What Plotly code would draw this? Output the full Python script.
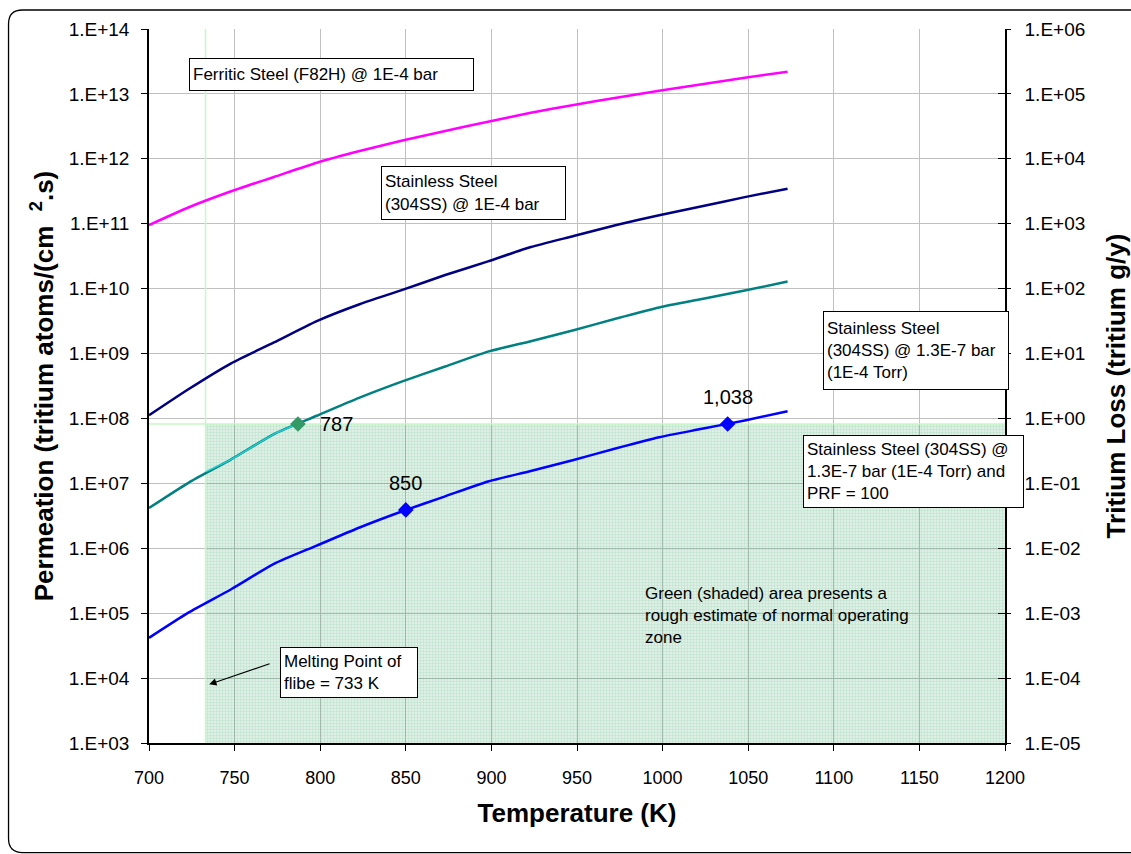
import math
import plotly.graph_objects as go

# Temperature grid (K) of the permeation curves
temps = [700, 723, 748, 773, 798, 823, 848, 873, 898, 923, 948, 973, 998, 1023, 1048, 1073]

# Permeation, tritium atoms/(cm2.s)
ferritic_1e4bar = [9.55e10, 1.78e11, 3.16e11, 5.25e11, 8.71e11, 1.32e12, 1.91e12, 2.69e12,
                   3.72e12, 5.13e12, 6.76e12, 8.71e12, 1.12e13, 1.41e13, 1.78e13, 2.19e13]
ss304_1e4bar = [1.12e8, 2.82e8, 7.08e8, 1.48e9, 3.16e9, 5.75e9, 9.55e9, 1.62e10,
                2.63e10, 4.37e10, 6.46e10, 9.55e10, 1.35e11, 1.86e11, 2.57e11, 3.47e11]
ss304_13e7bar = [4.17e6, 1.02e7, 2.34e7, 5.75e7, 1.10e8, 2.09e8, 3.72e8, 6.31e8,
                 1.07e9, 1.55e9, 2.29e9, 3.47e9, 5.13e9, 6.92e9, 9.33e9, 1.29e10]
ss304_13e7bar_prf100 = [4.17e4, 1.02e5, 2.34e5, 5.75e5, 1.10e6, 2.09e6, 3.72e6, 6.31e6,
                        1.07e7, 1.55e7, 2.29e7, 3.47e7, 5.13e7, 6.92e7, 9.33e7, 1.29e8]

# Part of the 1.3E-7 bar curve that lies in the operating zone
zone_seg_T = [733, 748, 773, 787]
zone_seg_P = [1.5e7, 2.34e7, 5.75e7, 8.2e7]

# Highlighted points
mark_T = [787, 850, 1038]
mark_P = [8.2e7, 3.9e6, 8.2e7]
mark_colors = ["#339966", "#0000FF", "#0000FF"]

# Operating zone limits
melt_T = 733
zone_T_max = 1200
zone_P_min = 1e3
zone_P_max = 8.2e7

# Axis ticks
x_ticks = [700, 750, 800, 850, 900, 950, 1000, 1050, 1100, 1150, 1200]
left_exps = list(range(3, 15))
right_exps = list(range(-5, 7))
left_vals = [10.0 ** e for e in left_exps]
left_text = [f"1.E{e:+03d}" for e in left_exps]
right_vals = [10.0 ** e for e in right_exps]
right_text = [f"1.E{e:+03d}" for e in right_exps]

FONT = "Arial, 'Liberation Sans', sans-serif"

fig = go.Figure()

# shaded operating zone
fig.add_trace(go.Scatter(
    x=[melt_T, zone_T_max, zone_T_max, melt_T, melt_T],
    y=[zone_P_min, zone_P_min, zone_P_max, zone_P_max, zone_P_min],
    mode="lines", line=dict(width=0), fill="toself",
    fillcolor="rgba(50,160,100,0.22)",
    fillpattern=dict(shape="+", size=3, solidity=0.34,
                     fgcolor="rgba(50,165,105,0.40)",
                     bgcolor="rgba(50,160,100,0.16)"),
    hoverinfo="skip", showlegend=False))

# zone boundary lines
fig.add_trace(go.Scatter(x=[melt_T, melt_T], y=[1e3, 1e14], mode="lines",
                         line=dict(color="#c6f7c6", width=1.5),
                         hoverinfo="skip", showlegend=False))
fig.add_trace(go.Scatter(x=[700, 1200], y=[zone_P_max, zone_P_max], mode="lines",
                         line=dict(color="#c6f7c6", width=1.5),
                         hoverinfo="skip", showlegend=False))

series = [
    (ferritic_1e4bar, "#FF00FF"),
    (ss304_1e4bar, "#000080"),
    (ss304_13e7bar, "#008080"),
    (ss304_13e7bar_prf100, "#0000FF"),
]
for vals, col in series:
    fig.add_trace(go.Scatter(x=temps, y=vals, mode="lines", line_shape="spline",
                             line=dict(color=col, width=2.5, smoothing=0.6), showlegend=False))

fig.add_trace(go.Scatter(x=zone_seg_T, y=zone_seg_P, mode="lines", line_shape="spline",
                         line=dict(color="#20d0d0", width=1.5, smoothing=0.6), showlegend=False))

fig.add_trace(go.Scatter(x=mark_T, y=mark_P, mode="markers",
                         marker=dict(symbol="diamond", size=12, color=mark_colors),
                         showlegend=False))

# traces that carry the right-hand axes
fig.add_trace(go.Scatter(x=[700, 1200], y=[1e-5, 1e6], yaxis="y2", mode="lines",
                         line=dict(width=0), opacity=0, hoverinfo="skip", showlegend=False))
fig.add_trace(go.Scatter(x=[700, 1200], y=[1e-5, 1e6], yaxis="y3", mode="lines",
                         line=dict(width=0), opacity=0, hoverinfo="skip", showlegend=False))

# value labels of highlighted points (annotation y on a log axis is log10)
for i, (t, p) in enumerate(zip(mark_T, mark_P)):
    if i == 0:
        fig.add_annotation(x=t, y=math.log10(p), xref="x", yref="y", text=f"{t:,}",
                           showarrow=False, xanchor="left", xshift=20,
                           font=dict(family=FONT, size=20, color="black"))
    else:
        fig.add_annotation(x=t, y=math.log10(p), xref="x", yref="y", text=f"{t:,}",
                           showarrow=False, yshift=27,
                           font=dict(family=FONT, size=20, color="black"))

# boxed series labels: (text, T centre, log10 P centre, width, height)
boxes = [
    ("Ferritic Steel (F82H) @ 1E-4 bar", 806.6, 13.30, 277, 25),
    ("Stainless Steel<br>(304SS) @ 1E-4 bar", 889.5, 11.473, 177, 46),
    ("Stainless Steel<br>(304SS) @ 1.3E-7 bar<br>(1E-4 Torr)", 1148.0, 9.047, 178, 71),
    ("Stainless Steel (304SS) @<br>1.3E-7 bar (1E-4 Torr) and<br>PRF = 100", 1146.5, 7.186, 213, 65),
    ("Melting Point of<br>flibe = 733 K", 816.8, 4.086, 130, 43),
]
for txt, bx, by, w, h in boxes:
    fig.add_annotation(x=bx, y=by, xref="x", yref="y", text=txt, showarrow=False,
                       align="left", width=w, height=h, valign="middle",
                       bgcolor="white", bordercolor="black", borderwidth=1, borderpad=3,
                       font=dict(family=FONT, size=17, color="black"))

fig.add_annotation(x=988.4, y=4.964, xref="x", yref="y", xanchor="left",
                   text="Green (shaded) area presents a<br>rough estimate of normal operating<br>zone",
                   showarrow=False, align="left",
                   font=dict(family=FONT, size=17, color="black"))

# arrow to the melting point line
fig.add_annotation(x=735.2, y=3.904, ax=771.3, ay=4.228, xref="x", yref="y",
                   axref="x", ayref="y", text="", showarrow=True,
                   arrowhead=2, arrowsize=1.2, arrowwidth=1.2, arrowcolor="black")

# leader lines from labels to curves
leaders = [
    (896.3, 13.307, 922.5, 12.726),
    (949.8, 11.647, 986.4, 11.073),
    (1058.8, 9.866, 1087.1, 9.424),
    (1058.2, 7.837, 1075.4, 7.540),
]
for x0, y0, x1, y1 in leaders:
    fig.add_shape(type="line", xref="x", yref="y", x0=x0, y0=y0, x1=x1, y1=y1,
                  line=dict(color="black", width=1))

# rounded outer frame (right side runs past the page edge)
L, R, T, B = -0.1641, 1.20, 1.0266, -0.1534
rx, ry = 0.0164, 0.0196
frame = (f"M{L+rx},{T} L{R-rx},{T} Q{R},{T} {R},{T-ry} L{R},{B+ry} Q{R},{B} {R-rx},{B} "
         f"L{L+rx},{B} Q{L},{B} {L},{B+ry} L{L},{T-ry} Q{L},{T} {L+rx},{T} Z")
fig.add_shape(type="path", xref="paper", yref="paper", path=frame,
              line=dict(color="black", width=1.3), layer="above")

tickfont = dict(family=FONT, size=18, color="black")
ytickfont = dict(family=FONT, size=19, color="black")
titlefont = dict(family=FONT, size=26, color="black", weight="bold")

fig.update_layout(
    width=1131, height=854, autosize=False,
    margin=dict(l=149, r=126, t=29, b=111, autoexpand=False),
    paper_bgcolor="white", plot_bgcolor="white",
    showlegend=False,
    xaxis=dict(range=[700, 1200], tickvals=x_ticks, ticks="outside", ticklen=6,
               tickcolor="black", showline=True, linecolor="black", linewidth=1.5,
               showgrid=True, gridcolor="#c0c0c0", gridwidth=1, zeroline=False,
               tickfont=tickfont, ticklabelstandoff=12, automargin=False,
               title=dict(text="Temperature (K)", font=titlefont, standoff=16)),
    yaxis=dict(type="log", range=[3, 14], tickvals=left_vals, ticktext=left_text,
               ticks="outside", ticklen=6, tickcolor="black",
               showline=True, linecolor="black", linewidth=1.5,
               showgrid=True, gridcolor="#c0c0c0", gridwidth=1, zeroline=False,
               tickfont=ytickfont, ticklabelstandoff=8, automargin=False,
               title=dict(text="Permeation (tritium atoms/(cm\u00a0\u00a0<sup>2</sup>.s)",
                          font=titlefont, standoff=8)),
    yaxis2=dict(type="log", range=[-5, 6], overlaying="y", side="right", anchor="x",
                tickvals=right_vals, ticktext=right_text,
                ticks="outside", ticklen=4, tickcolor="black",
                showline=True, linecolor="black", linewidth=1.5,
                showgrid=False, zeroline=False, tickfont=ytickfont, ticklabelstandoff=10,
                automargin=False,
                title=dict(text="Tritium Loss (tritium g/y)", font=titlefont, standoff=38)),
    yaxis3=dict(type="log", range=[-5, 6], overlaying="y", side="right", anchor="x",
                tickvals=right_vals, ticks="inside", ticklen=7, tickcolor="black",
                showticklabels=False, showline=False, showgrid=False, zeroline=False,
                automargin=False),
)

fig.write_html("out.html")
